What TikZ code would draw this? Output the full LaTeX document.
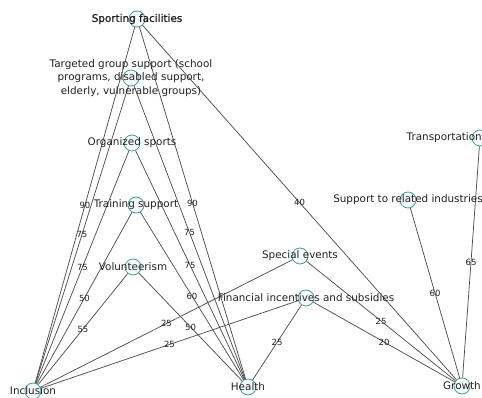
\documentclass[tikz,border=0pt]{standalone}
\usepackage{fontspec}
\setmainfont{DejaVu Sans}
\newfontfamily\heavyfont[FakeBold=1.2]{DejaVu Sans}
\definecolor{edgegray}{HTML}{505050}
\definecolor{ringteal}{HTML}{4A9C9C}
\definecolor{inkgray}{HTML}{222222}
\begin{document}
\begin{tikzpicture}[x=1pt,y=-1pt,
  vertex/.style={circle,draw=ringteal,fill=ringteal!4,line width=0.8pt,minimum size=16pt,inner sep=0pt},
  caption/.style={text=inkgray,font=\fontsize{10.4}{13.5}\selectfont,inner sep=0pt,align=center},
  link/.style={draw=edgegray,line width=0.75pt},
  weight/.style={text=inkgray,font=\fontsize{8.5}{9}\selectfont,inner sep=0pt,midway}]
\useasboundingbox (0,0) rectangle (482,398);
\fill[white] (0,0) rectangle (482,398);

% vertices
\node[vertex] (sport)   at (137,19)  {};
\node[vertex] (target)  at (131,78)  {};
\node[vertex] (org)     at (132,143) {};
\node[vertex] (train)   at (136,205) {};
\node[vertex] (vol)     at (133,267) {};
\node[vertex] (special) at (300,256) {};
\node[vertex] (fin)     at (306,298) {};
\node[vertex] (related) at (408,200) {};
\node[vertex] (transp)  at (480,138) {};
\node[vertex] (incl)    at (33,391)  {};
\node[vertex] (health)  at (248,387) {};
\node[vertex] (growth)  at (462,386) {};

% weighted links
\path[link]
  (incl) edge node[weight] {90} (sport)
  (incl) edge node[weight] {75} (target)
  (incl) edge node[weight] {75} (org)
  (incl) edge node[weight] {50} (train)
  (incl) edge node[weight] {55} (vol)
  (incl) edge node[weight] {25} (special)
  (incl) edge node[weight] {25} (fin)
  (health) edge node[weight] {90} (sport)
  (health) edge node[weight] {75} (target)
  (health) edge node[weight] {75} (org)
  (health) edge node[weight] {60} (train)
  (health) edge node[weight] {50} (vol)
  (health) edge node[weight] {25} (fin)
  (growth) edge node[weight] {40} (sport)
  (growth) edge node[weight] {25} (special)
  (growth) edge node[weight] {20} (fin)
  (growth) edge node[weight] {60} (related)
  (growth) edge node[weight] {65} (transp);

% vertex captions
\node[caption,font=\heavyfont\fontsize{10.4}{13.5}\selectfont] (sportT) at (sport) {Sporting facilities};
\node[caption] (targetT)  at (target)  {Targeted group support (school\\programs, disabled support,\\elderly, vulnerable groups)};
\node[caption] (orgT)     at (org)     {Organized sports};
\node[caption] (trainT)   at (train)   {Training support};
\node[caption] (volT)     at (vol)     {Volunteerism};
\node[caption] (specialT) at (special) {Special events};
\node[caption] (finT)     at (fin)     {Financial incentives and subsidies};
\node[caption] (relatedT) at (related) {Support to related industries};
\node[caption,anchor=east] (transpT) at (482,138) {Transportation};
\node[caption] (inclT)    at (incl)    {Inclusion};
\node[caption] (healthT)  at (health)  {Health};
\node[caption] (growthT)  at (growth)  {Growth};
\end{tikzpicture}
\end{document}
